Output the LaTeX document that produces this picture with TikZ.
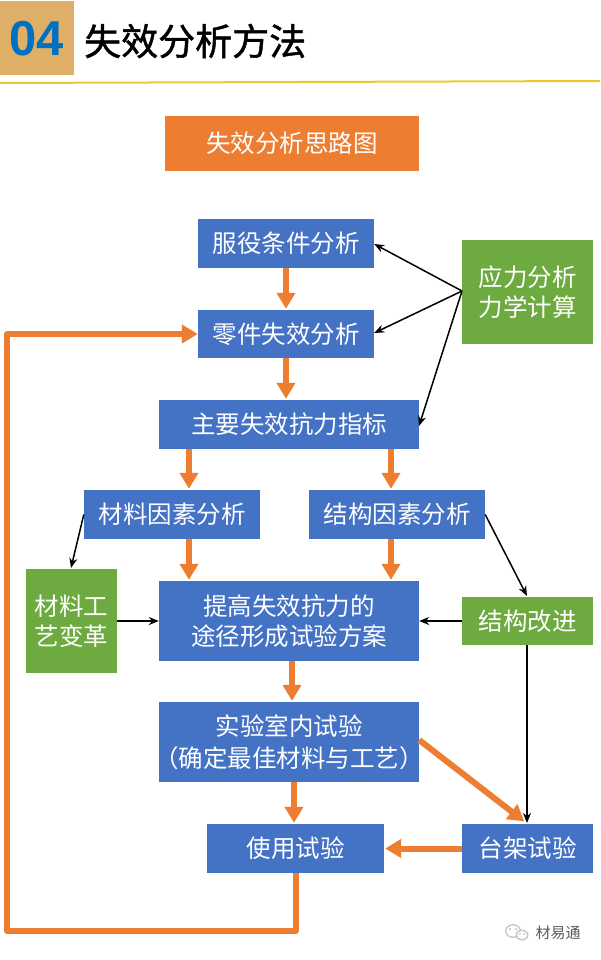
\documentclass[tikz,border=0pt]{standalone}
\usepackage{fontspec}
\setmainfont{Noto Sans CJK SC}
\newfontfamily\latinbold{Liberation Sans}[BoldFont={Liberation Sans Bold}]
\newfontfamily\titlefont{Noto Sans CJK SC}[RawFeature={embolden=1.2}]
\usetikzlibrary{arrows.meta,calc}
\lineskiplimit=-20pt
\definecolor{boxblue}{HTML}{4472C4}
\definecolor{boxorange}{HTML}{ED7D31}
\definecolor{boxgreen}{HTML}{6DAA3F}
\definecolor{headtan}{HTML}{DFAF68}
\definecolor{headblue}{HTML}{0070C0}
\definecolor{ruleyellow}{HTML}{EDC92E}
\definecolor{markgray}{HTML}{5A5A5A}
\tikzset{
  x=1pt,y=-1pt,
  plainbox/.style={draw=none,inner sep=0pt,align=center,text=white,font=\fontsize{24.5}{30}\selectfont},
  bluebox/.style={plainbox,fill=boxblue},
  greenbox/.style={plainbox,fill=boxgreen},
  orangebox/.style={plainbox,fill=boxorange},
  bigarrow/.style={draw=boxorange,line width=6pt,-{Triangle[length=16pt,width=18pt]},shorten >=1pt},
  thinarrow/.style={draw=black,line width=1.5pt,-{Stealth[length=10pt,width=8pt]}},
}
\newcommand{\boxat}[7]{\node[#1,minimum width=#5pt-#3pt,minimum height=#6pt-#4pt] (#2) at ({(#3+#5)/2},{(#4+#6)/2}) {#7};}
\begin{document}
\begin{tikzpicture}
\useasboundingbox (0,0) rectangle (600,960);
\fill[white] (0,0) rectangle (600,960);
% header
\boxat{plainbox,fill=headtan}{hd}{0}{1}{74}{75}{}
\node[text=headblue,font=\latinbold\bfseries\fontsize{49}{49}\selectfont,inner sep=0pt] (hnum) at (37,39) {04};
\node[text=black,font=\titlefont\fontsize{37}{37}\selectfont,inner sep=0pt,anchor=west] (htitle) at (84,41) {失效分析方法};
\coordinate (ruleL) at (0,83);
\coordinate (ruleR) at (600,81);
\draw[ruleyellow,line width=2pt] (ruleL) -- (ruleR);
% boxes
\boxat{orangebox}{title}{165}{116}{419}{171}{失效分析思路图}
\boxat{bluebox}{fuyi}{198}{219}{374}{268}{服役条件分析}
\boxat{bluebox}{lingjian}{198}{310}{374}{358}{零件失效分析}
\boxat{bluebox}{zhuyao}{159}{400}{419}{449}{主要失效抗力指标}
\boxat{bluebox}{cailiao}{84}{490}{260}{539}{材料因素分析}
\boxat{bluebox}{jiegou}{309}{490}{485}{539}{结构因素分析}
\boxat{bluebox}{tigao}{159}{581}{419}{661}{提高失效抗力的\\途径形成试验方案}
\boxat{bluebox,font=\fontsize{24.5}{32}\selectfont}{shiyan}{159}{702}{419}{782}{实验室内试验\\\makebox[240pt]{（确定最佳材料与工艺）}}
\boxat{bluebox}{shiyong}{207}{824}{384}{873}{使用试验}
\boxat{bluebox}{taijia}{462}{824}{593}{873}{台架试验}
\boxat{greenbox}{yingli}{462}{240}{593}{344}{应力分析\\力学计算}
\boxat{greenbox}{gongyi}{26}{569}{117}{673}{材料工\\艺变革}
\boxat{greenbox}{gaijin}{462}{597}{593}{645}{结构改进}
% orange arrows
\draw[bigarrow] (fuyi.south) -- (lingjian.north);
\draw[bigarrow] (lingjian.south) -- (lingjian.south |- zhuyao.north);
\coordinate (a1) at ([xshift=17pt]cailiao.north);
\coordinate (a2) at ([xshift=-6pt]jiegou.north);
\draw[bigarrow] (a1 |- zhuyao.south) -- (a1 |- cailiao.north);
\draw[bigarrow] (a2 |- zhuyao.south) -- (a2 |- jiegou.north);
\draw[bigarrow] (a1 |- cailiao.south) -- (a1 |- tigao.north);
\draw[bigarrow] (a2 |- jiegou.south) -- (a2 |- tigao.north);
\draw[bigarrow] ([xshift=3pt]tigao.south) -- ([xshift=3pt]shiyan.north);
\draw[bigarrow] ([xshift=5pt]shiyan.south) -- ([xshift=5pt]shiyan.south |- shiyong.north);
\draw[bigarrow] ([yshift=2pt]shiyan.east) -- (525,822);
\draw[bigarrow] (taijia.west) -- (shiyong.east);
\draw[draw=boxorange,line width=6pt,-{Triangle[length=16pt,width=18pt]},line join=round] (shiyong.south) -- (shiyong.south |- 0,931) -- (7,931) -- (7,334) -- (lingjian.west);
% black arrows
\coordinate (yfrom) at (462,291);
\draw[thinarrow] (yfrom) -- (fuyi.east |- 0,244);
\draw[thinarrow] (yfrom) -- (lingjian.east |- 0,333);
\draw[thinarrow] (yfrom) -- (419,426);
\draw[thinarrow] (cailiao.west) -- (71,568);
\draw[thinarrow] (jiegou.east) -- (527,596);
\draw[thinarrow] (gongyi.east |- tigao.west) -- (tigao.west);
\draw[thinarrow] (gaijin.west |- tigao.east) -- (tigao.east);
\draw[thinarrow] (gaijin.south -| 527,0) -- (527,823);
% watermark
\fill[gray!45] (513,931) ellipse (8pt and 7pt);
\fill[white] (513,931) ellipse (6.5pt and 5.5pt);
\fill[gray!45] (522,935) ellipse (6.5pt and 5.5pt);
\fill[white] (522,935) ellipse (5pt and 4pt);
\fill[gray!60] (510,929) circle (1pt) (516,929) circle (1pt) (520,934) circle (.8pt) (524,934) circle (.8pt);
\node[text=markgray,font=\fontsize{15}{15}\selectfont,inner sep=0pt] (mark) at (558,933) {材易通};
\end{tikzpicture}
\end{document}
